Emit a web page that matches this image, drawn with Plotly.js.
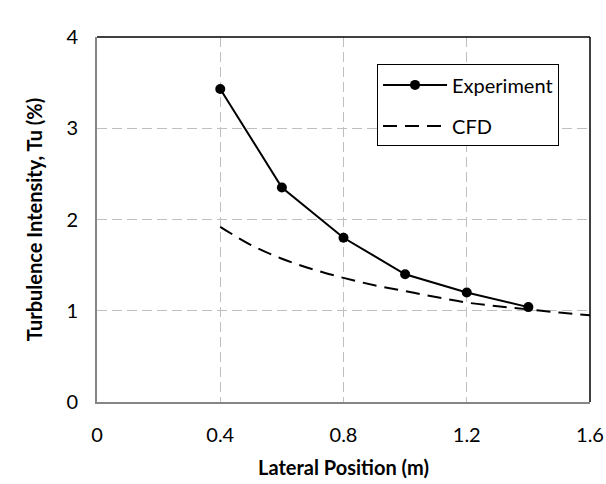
<!DOCTYPE html>
<html><head><meta charset="utf-8">
<script src="https://cdn.plot.ly/plotly-3.0.1.min.js"></script>
<style>html,body{margin:0;padding:0;background:#fff}#c{width:606px;height:484px}</style>
</head><body><div id="c"></div>
<script>
const expX = [0.4, 0.6, 0.8, 1.0, 1.2, 1.4];
const expY = [3.43, 2.35, 1.80, 1.40, 1.20, 1.04];
const cfdX = [0.4, 0.5, 0.6, 0.7, 0.8, 0.9, 1.0, 1.1, 1.2, 1.3, 1.4, 1.5, 1.6];
const cfdY = [1.92, 1.72, 1.57, 1.455, 1.36, 1.28, 1.215, 1.15, 1.09, 1.05, 1.015, 0.98, 0.95];
const xTicks = [0, 0.4, 0.8, 1.2, 1.6];
const xTickText = ['0', '0.4', '0.8', '1.2', '1.6'];
const yTicks = [0, 1, 2, 3, 4];

const font = 'Lato, "Open Sans", sans-serif';
const fs = 20;
const traces = [
  {x: expX, y: expY, name: 'Experiment', mode: 'lines+markers', legendgroup: 'a',
   line: {color: '#000', width: 2}, marker: {color: '#000', size: 10, symbol: 'circle'}},
  {x: cfdX, y: cfdY, name: 'CFD', mode: 'lines', legendgroup: 'b',
   line: {color: '#000', width: 2, dash: '14px,8px', shape: 'spline'}}
];
const layout = {
  width: 606, height: 484,
  margin: {l: 97, r: 16, t: 37, b: 82},
  paper_bgcolor: '#fff', plot_bgcolor: '#fff',
  font: {family: font, size: fs, color: '#000'},
  showlegend: true,
  legend: {x: 0.568, y: 0.925, xanchor: 'left', yanchor: 'top',
    bordercolor: '#000', borderwidth: 1, bgcolor: '#fff',
    font: {family: font, size: fs, color: '#000'},
    traceorder: 'grouped', tracegroupgap: 12, itemwidth: 64},
  xaxis: {range: [0, 1.6], tickvals: xTicks, ticktext: xTickText,
    showgrid: true, gridcolor: '#BFBFBF', griddash: '10px,5px', gridwidth: 1,
    showline: true, linecolor: '#868686', linewidth: 2, zeroline: false,
    ticks: '', ticklabelstandoff: 14,
    tickfont: {family: font, size: fs, color: '#000'},
    title: {text: '<b>Lateral Position (m)</b>', font: {family: font, size: fs, color: '#000'}, standoff: 16}},
  yaxis: {range: [0, 4], tickvals: yTicks,
    showgrid: true, gridcolor: '#BFBFBF', griddash: '10px,5px', gridwidth: 1,
    showline: true, linecolor: '#868686', linewidth: 2, zeroline: false,
    ticks: '', ticklabelstandoff: 13,
    tickfont: {family: font, size: fs, color: '#000'},
    title: {text: '<b>Turbulence Intensity, Tu (%)</b>', font: {family: font, size: fs, color: '#000'}, standoff: 18}},
  shapes: [
    {type: 'line', xref: 'paper', yref: 'paper', x0: 0, x1: 1, y0: 1, y1: 1, line: {color: '#000', width: 1.5}},
    {type: 'line', xref: 'paper', yref: 'paper', x0: 1, x1: 1, y0: 0, y1: 1, line: {color: '#000', width: 1.5}}
  ]
};
Plotly.newPlot('c', traces, layout, {displayModeBar: false, staticPlot: true});
</script></body></html>
